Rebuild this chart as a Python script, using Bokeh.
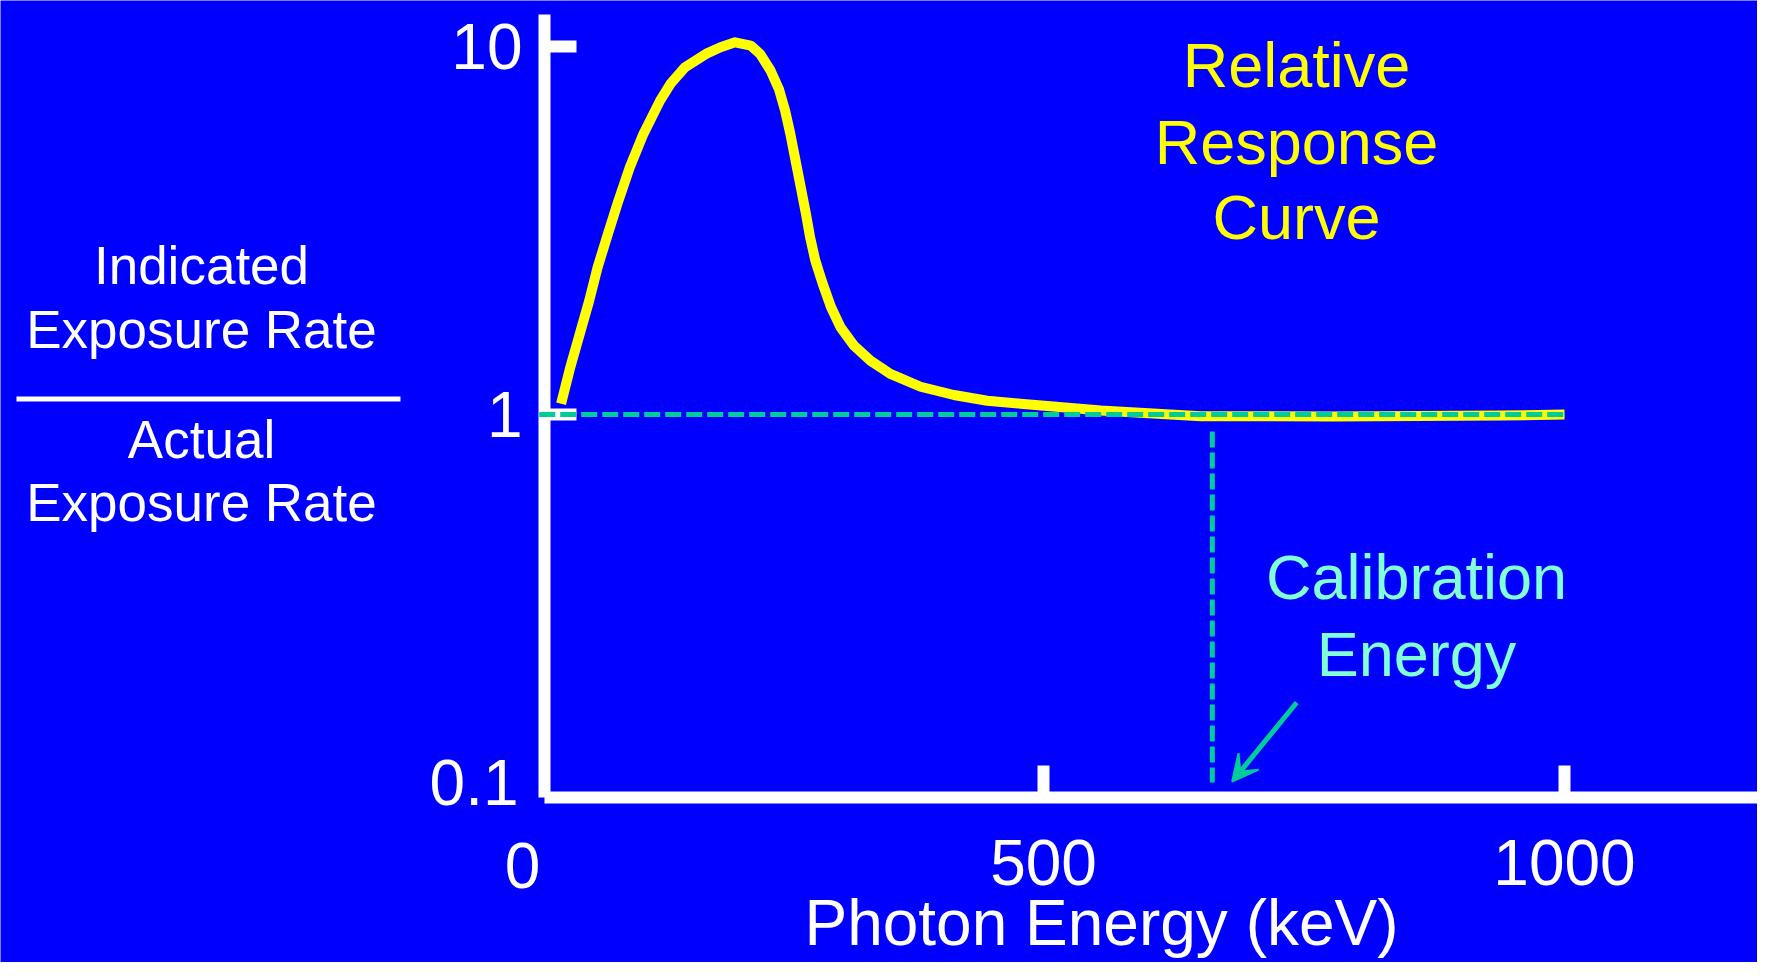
from bokeh.plotting import figure
from bokeh.models import Range1d, FixedTicker, Label, BoxAnnotation, Arrow, VeeHead
from bokeh.embed import file_html
from bokeh.resources import INLINE

# ---------------- data ----------------
energy_kev = [37, 46, 55, 64, 72, 82, 92, 103, 116, 132,
              142, 156, 176, 190, 204, 219, 228, 238, 246, 252,
              257, 262, 267, 272, 276, 281, 288, 296, 305, 318,
              334, 353, 382, 414, 446, 478, 555, 651, 778, 939,
              1000]
relative_response = [1.07, 1.35, 1.66, 2.04, 2.51, 3.10, 3.81, 4.70, 5.79, 7.13,
                      7.92, 8.79, 9.55, 9.96, 10.27, 10.06, 9.55, 8.61, 7.67, 6.70,
                      5.79, 4.90, 4.15, 3.51, 3.03, 2.62, 2.27, 1.96, 1.73, 1.54,
                      1.40, 1.29, 1.19, 1.13, 1.09, 1.07, 1.025, 0.99, 0.988, 0.994,
                      1.00]

x_ticks = [500, 1000]
y_ticks = [1, 10]
x_zero_label = "0"
y_bottom_label = "0.1"
y_bottom_value = 0.1

reference_response = 1.0
reference_line_x = [16, 1000]
calibration_energy = 662
calibration_line_y = [0.9, 0.1]
arrow_tail = (743, 0.165)
arrow_tip = (681, 0.1006)

title_lines = ["Relative", "Response", "Curve"]
calib_lines = ["Calibration", "Energy"]
numerator_lines = ["Indicated", "Exposure Rate"]
denominator_lines = ["Actual", "Exposure Rate"]
x_title = "Photon Energy (keV)"

# ---------------- style / layout ----------------
BLUE = "#0000FF"
WHITE = "#FFFFFF"
YELLOW = "#FFFF00"
GREEN = "#00CC99"
AQUA = "#80FFD8"
FONT = "Liberation Sans"

W, H = 1757, 962

# visible axis extents (data units)
AXIS_X0, AXIS_X1 = 21.1, 1185.2
AXIS_Y0, AXIS_Y1 = 0.0908, 12.22
# full-canvas data ranges
XR0, XR1 = -501.0, 1185.2
YR0, YR1 = 0.03243, 13.34


def sx(px):
    return px


def sy(py):
    return H - py


p = figure(width=W, height=H,
           x_range=Range1d(XR0, XR1), y_range=Range1d(YR0, YR1),
           y_axis_type="log", output_backend="svg", toolbar_location=None,
           min_border_left=0, min_border_right=0, min_border_top=0, min_border_bottom=0)
p.background_fill_color = BLUE
p.border_fill_color = BLUE
p.outline_line_color = None
p.xgrid.visible = False
p.ygrid.visible = False

xa = p.xaxis[0]
ya = p.yaxis[0]
for ax in (xa, ya):
    ax.axis_line_color = WHITE
    ax.axis_line_width = 12
    ax.major_tick_line_color = WHITE
    ax.major_tick_line_width = 12
    ax.major_tick_in = 32
    ax.major_tick_out = 0
    ax.minor_tick_line_color = None
    ax.major_label_text_color = WHITE
    ax.major_label_text_font = FONT
    ax.major_label_text_font_size = "64px"

xa.ticker = FixedTicker(ticks=x_ticks)
xa.fixed_location = AXIS_Y0
xa.bounds = (AXIS_X0, AXIS_X1)
xa.major_label_standoff = 42

ya.ticker = FixedTicker(ticks=y_ticks)
ya.fixed_location = AXIS_X0
ya.bounds = (AXIS_Y0, AXIS_Y1)
ya.major_label_overrides = {1: "1", 10: "10"}
ya.major_label_standoff = 22

# response curve
p.line(energy_kev, relative_response, line_color=YELLOW, line_width=10, line_join="round")

# reference dashed lines
h = p.line(reference_line_x, [reference_response, reference_response],
           line_color=GREEN, line_width=5, line_dash="16 5")
h.level = "overlay"
v = p.line([calibration_energy, calibration_energy], calibration_line_y,
           line_color=GREEN, line_width=5, line_dash="16 5")
v.level = "overlay"

p.add_layout(Arrow(end=VeeHead(size=26, fill_color=GREEN, fill_alpha=1.0,
                               line_color=GREEN, line_width=2),
                   x_start=arrow_tail[0], y_start=arrow_tail[1],
                   x_end=arrow_tip[0], y_end=arrow_tip[1],
                   line_color=GREEN, line_width=5))


def add_text(text, x, y, color, size, align="center",
             x_units="screen", y_units="screen"):
    p.add_layout(Label(text=text, x=x, y=y, x_units=x_units, y_units=y_units,
                       text_color=color, text_font=FONT, text_font_size=size,
                       text_align=align, text_baseline="middle"))


# extra tick labels
add_text(x_zero_label, 0, sy(865), WHITE, "64px", x_units="data")
add_text(y_bottom_label, sx(518), y_bottom_value, WHITE, "64px", align="right",
         y_units="data")

# x title
add_text(x_title, sx(1101), sy(922), WHITE, "64px")

# curve title
for line, cy in zip(title_lines, [64, 141, 216]):
    add_text(line, sx(1296), sy(cy), YELLOW, "63px")

# calibration text
for line, cy in zip(calib_lines, [576, 653]):
    add_text(line, sx(1416), sy(cy), AQUA, "63px")

# y-axis fraction title
for line, cy in zip(numerator_lines, [264.5, 328.5]):
    add_text(line, sx(201), sy(cy), WHITE, "53px")
for line, cy in zip(denominator_lines, [438.5, 501.5]):
    add_text(line, sx(201), sy(cy), WHITE, "53px")
p.add_layout(BoxAnnotation(left=sx(16), right=sx(400), top=sy(396), bottom=sy(401),
                           left_units="screen", right_units="screen",
                           top_units="screen", bottom_units="screen",
                           fill_color=WHITE, fill_alpha=1.0, line_color=None))

open("out.html", "w").write(file_html(p, INLINE))
